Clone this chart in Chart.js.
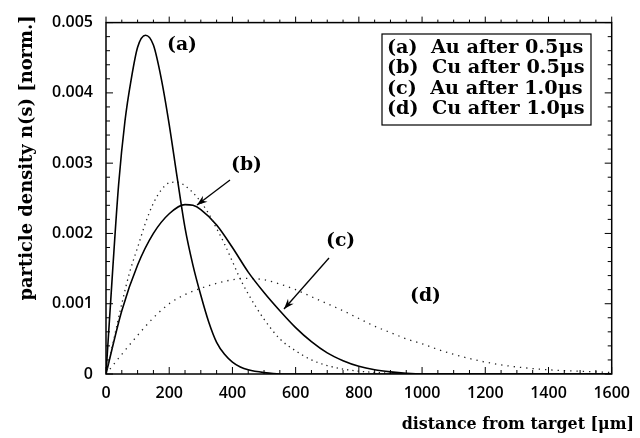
<!DOCTYPE html>
<html>
<head>
    <meta charset="utf-8">
    <title>Particle density</title>
    <script src="https://cdn.jsdelivr.net/npm/chart.js"></script>
    <style>
        body { margin: 0; background: #fff; }
        .wrap { width: 640px; height: 438px; }
    </style>
</head>
<body>
    <div class="wrap"><canvas id="densityChart" width="640" height="438"></canvas></div>
    <script>
        // distances in um, densities normalised
        var xA = [0, 20, 40, 60, 80, 100, 125, 150, 175, 200, 225, 250, 275, 300, 325, 350, 375, 400, 425, 450, 500, 550, 600, 800, 1000, 1200, 1400, 1600];
        var auHalf = [0, 0.0014, 0.0027, 0.0036, 0.0042, 0.00465, 0.00482, 0.00468, 0.0042, 0.00355, 0.0028, 0.00208, 0.00155, 0.00112, 0.00074, 0.00045, 0.00028, 0.00017, 0.0001, 0.00006, 0.00002, 0, 0, 0, 0, 0, 0, 0];

        var xB = [0, 25, 50, 75, 100, 125, 150, 175, 200, 225, 250, 275, 300, 325, 350, 375, 400, 425, 450, 475, 500, 550, 600, 650, 700, 750, 800, 900];
        var cuHalf = [0, 0.0005, 0.001, 0.00145, 0.0018, 0.00215, 0.00243, 0.00262, 0.00272, 0.00273, 0.00268, 0.00258, 0.00245, 0.00228, 0.00207, 0.00185, 0.0016, 0.00135, 0.00114, 0.00095, 0.00078, 0.0005, 0.00033, 0.0002, 0.00012, 0.00007, 0.00004, 0.00001];

        var xC = [0, 50, 100, 150, 200, 250, 275, 300, 350, 400, 450, 500, 550, 600, 650, 700, 750, 800, 850, 900, 950, 1000, 1200, 1400, 1600];
        var auOne = [0, 0.0009, 0.00155, 0.002, 0.00228, 0.00241, 0.0024, 0.00234, 0.00212, 0.0018, 0.00145, 0.00116, 0.0009, 0.00066, 0.00046, 0.0003, 0.00019, 0.00011, 0.00006, 0.00003, 0.00001, 0, 0, 0, 0];

        var xD = [0, 50, 100, 150, 200, 250, 300, 350, 400, 450, 500, 550, 600, 650, 700, 750, 800, 850, 900, 950, 1000, 1050, 1100, 1150, 1200, 1250, 1300, 1400, 1500, 1600];
        var cuOne = [0, 0.00028, 0.00055, 0.0008, 0.001, 0.00113, 0.00122, 0.00129, 0.00134, 0.00136, 0.00134, 0.00128, 0.0012, 0.0011, 0.001, 0.0009, 0.00079, 0.00068, 0.00059, 0.0005, 0.00043, 0.00035, 0.00028, 0.00022, 0.00017, 0.00013, 0.0001, 0.00006, 0.00004, 0.00002];

        var xTicks = [0, 200, 400, 600, 800, 1000, 1200, 1400, 1600];
        var yTicks = [0, 0.001, 0.002, 0.003, 0.004, 0.005];
        var legendLines = ['(a)  Au after 0.5\u03bcs', '(b)  Cu after 0.5\u03bcs', '(c)  Au after 1.0\u03bcs', '(d)  Cu after 1.0\u03bcs'];

        function pts(xs, ys) {
            return xs.map(function(x, i) { return {x: x, y: ys[i]}; });
        }

        var serif = '"DejaVu Serif", "Liberation Serif", serif';
        var sans = '"Open Sans", "DejaVu Sans", sans-serif';

        // pick a font size so the text covers the given width
        function fitFont(c, text, width) {
            c.font = 'bold 20px ' + serif;
            var size = 20 * width / c.measureText(text).width;
            c.font = 'bold ' + size.toFixed(1) + 'px ' + serif;
        }

        // frame, inward ticks, labels, arrows, legend box
        var extras = {
            id: 'extras',
            afterDraw: function(chart) {
                var c = chart.ctx, a = chart.chartArea;
                var xs = chart.scales.x, ys = chart.scales.y;
                c.save();
                c.strokeStyle = '#000';
                c.lineWidth = 1.5;
                c.strokeRect(a.left, a.top, a.right - a.left, a.bottom - a.top);

                c.lineWidth = 1;
                c.beginPath();
                for (var v = 0; v <= 1600; v += 50) {
                    var px = xs.getPixelForValue(v);
                    var len = (v % 200 === 0) ? 7 : 4;
                    c.moveTo(px, a.bottom); c.lineTo(px, a.bottom - len);
                    c.moveTo(px, a.top); c.lineTo(px, a.top - len + 1);
                }
                for (var k = 0; k <= 25; k++) {
                    var py = ys.getPixelForValue(k * 0.0002);
                    var l2 = (k % 5 === 0) ? 7 : 4;
                    c.moveTo(a.left, py); c.lineTo(a.left + l2, py);
                    c.moveTo(a.right, py); c.lineTo(a.right - l2, py);
                }
                c.stroke();

                // curve labels
                c.fillStyle = '#000';
                c.textBaseline = 'middle';
                c.textAlign = 'left';
                fitFont(c, '(a)', 30);
                c.fillText('(a)', 167, 45);
                c.fillText('(b)', 231, 165);
                c.fillText('(c)', 326, 241);
                c.fillText('(d)', 410, 296);

                function arrow(x1, y1, x2, y2) {
                    var ang = Math.atan2(y2 - y1, x2 - x1);
                    c.lineWidth = 1.3;
                    c.beginPath(); c.moveTo(x1, y1); c.lineTo(x2, y2); c.stroke();
                    c.beginPath();
                    c.moveTo(x2, y2);
                    c.lineTo(x2 - 11 * Math.cos(ang - 0.35), y2 - 11 * Math.sin(ang - 0.35));
                    c.lineTo(x2 - 7 * Math.cos(ang), y2 - 7 * Math.sin(ang));
                    c.lineTo(x2 - 11 * Math.cos(ang + 0.35), y2 - 11 * Math.sin(ang + 0.35));
                    c.closePath(); c.fill();
                }
                arrow(230, 180, 197, 205);
                arrow(329, 258, 284, 309);

                // legend
                c.lineWidth = 1.2;
                c.strokeRect(382, 34, 209, 91);
                fitFont(c, legendLines[0], 196);
                legendLines.forEach(function(t, i) {
                    c.fillText(t, 387, 48 + i * 20.5);
                });

                // axis titles
                c.textAlign = 'right';
                fitFont(c, 'distance from target [\u03bcm]', 232);
                c.fillText('distance from target [\u03bcm]', 634, 425);
                c.translate(27, 158);
                c.rotate(-Math.PI / 2);
                c.textAlign = 'center';
                fitFont(c, 'particle density n(s) [norm.]', 286);
                c.fillText('particle density n(s) [norm.]', 0, 0);
                c.restore();
            }
        };

        var ctx = document.getElementById('densityChart').getContext('2d');
        var densityChart = new Chart(ctx, {
            type: 'line',
            data: {
                datasets: [
                    { label: '(a)', data: pts(xA, auHalf), borderColor: '#000', borderWidth: 1.6, pointRadius: 0, cubicInterpolationMode: 'monotone' },
                    { label: '(b)', data: pts(xB, cuHalf), borderColor: '#222', borderWidth: 1.3, borderDash: [1.3, 4], pointRadius: 0, cubicInterpolationMode: 'monotone' },
                    { label: '(c)', data: pts(xC, auOne), borderColor: '#000', borderWidth: 1.6, pointRadius: 0, cubicInterpolationMode: 'monotone' },
                    { label: '(d)', data: pts(xD, cuOne), borderColor: '#222', borderWidth: 1.3, borderDash: [1.3, 5], pointRadius: 0, cubicInterpolationMode: 'monotone' }
                ]
            },
            options: {
                responsive: false,
                animation: false,
                layout: { padding: { top: 20, right: 23, left: 0, bottom: 0 } },
                plugins: { legend: { display: false }, tooltip: { enabled: false } },
                scales: {
                    x: {
                        type: 'linear', min: 0, max: 1600,
                        afterBuildTicks: function(s) { s.ticks = xTicks.map(function(v) { return {value: v}; }); },
                        afterFit: function(s) { s.height = 64; },
                        grid: { display: false, drawTicks: false },
                        border: { display: false },
                        ticks: { color: '#000', font: { family: sans, size: 16, weight: '600' }, padding: 10, maxRotation: 0, autoSkip: false,
                            callback: function(v) { return String(v); } }
                    },
                    y: {
                        min: 0, max: 0.005,
                        afterBuildTicks: function(s) { s.ticks = yTicks.map(function(v) { return {value: v}; }); },
                        afterFit: function(s) { s.width = 106; },
                        grid: { display: false, drawTicks: false },
                        border: { display: false },
                        ticks: { color: '#000', font: { family: sans, size: 16, weight: '600' }, padding: 13,
                            callback: function(v) { return v === 0 ? '0' : v.toFixed(3); } }
                    }
                }
            },
            plugins: [extras]
        });
    </script>
</body>
</html>
